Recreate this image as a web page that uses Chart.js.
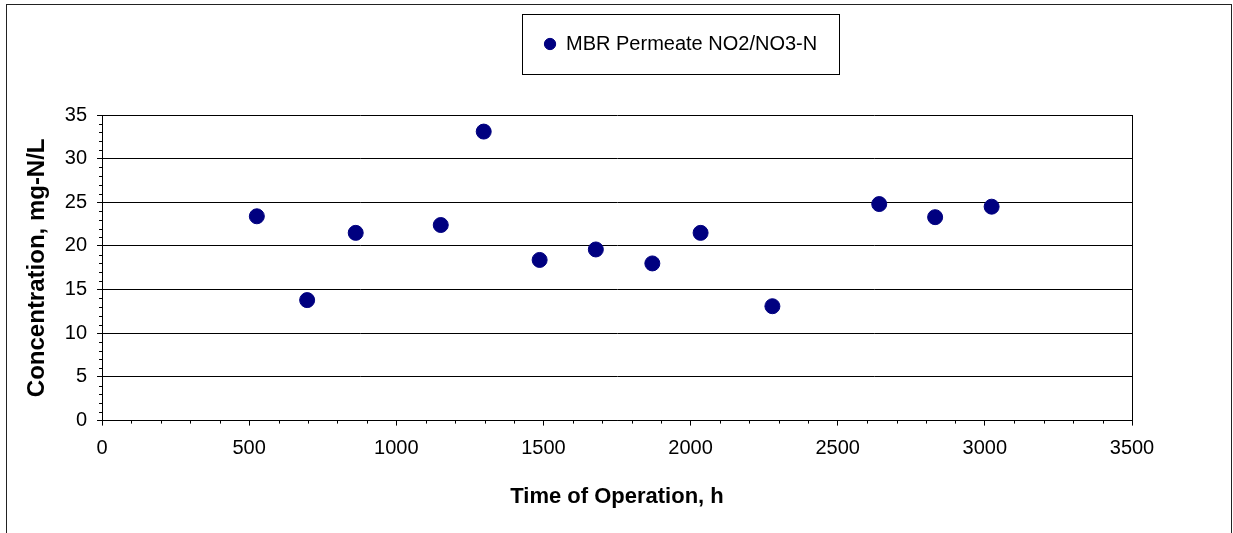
<!DOCTYPE html>
<html>
<head>
<meta charset="utf-8">
<title>MBR Permeate NO2/NO3-N</title>
<script src="https://cdn.jsdelivr.net/npm/chart.js@4"></script>
<style>
  html, body { margin: 0; padding: 0; background: #fff; }
</style>
</head>
<body>
<canvas id="nitrateChart" width="1233" height="533"></canvas>
<script>
// values
const hours = [526, 697, 862, 1151, 1297, 1487, 1678, 1870, 2034, 2278, 2641, 2831, 3023];
const nitrogen = [23.4, 13.8, 21.5, 22.4, 33.1, 18.4, 19.6, 18.0, 21.5, 13.1, 24.8, 23.3, 24.5];
const xTicks = [0, 500, 1000, 1500, 2000, 2500, 3000, 3500];
const yTicks = [0, 5, 10, 15, 20, 25, 30, 35];
const xMinorStep = 100;
const yMinorStep = 1;

Chart.defaults.font.family = 'Arial, "Liberation Sans", sans-serif';
Chart.defaults.color = '#000';

const frame = {
  id: 'frame',
  beforeInit(chart) {
    // leave room between the legend and the plot
    const fit = chart.legend.fit;
    chart.legend.fit = function () {
      fit.call(this);
      this.height += 51;
    };
  },
  afterLayout(chart) {
    // legend sits a bit right of centre
    const lg = chart.legend;
    const dx = chart.width * 0.552 - (lg.left + lg.right) / 2;
    lg.left += dx;
    lg.right += dx;
  },
  afterDraw(chart) {
    const {ctx, chartArea, scales: {x, y}} = chart;
    ctx.save();
    ctx.lineWidth = 1;
    ctx.strokeStyle = '#000';

    // minor ticks
    ctx.beginPath();
    for (let v = xTicks[0]; v <= xTicks[xTicks.length - 1]; v += xMinorStep) {
      if (xTicks.includes(v)) continue;
      const px = Math.round(x.getPixelForValue(v)) + 0.5;
      ctx.moveTo(px, chartArea.bottom);
      ctx.lineTo(px, chartArea.bottom + 3);
    }
    for (let v = yTicks[0]; v <= yTicks[yTicks.length - 1]; v += yMinorStep) {
      if (yTicks.includes(v)) continue;
      const py = Math.round(y.getPixelForValue(v)) + 0.5;
      ctx.moveTo(chartArea.left, py);
      ctx.lineTo(chartArea.left - 3, py);
    }
    ctx.stroke();

    // legend box
    const hb = chart.legend.legendHitBoxes[0];
    ctx.strokeRect(Math.round(hb.left - 22) + 0.5, Math.round(hb.top - 20) + 0.5,
      Math.round(hb.width + 44), Math.round(hb.height + 40));

    // outer frame
    ctx.strokeStyle = '#222';
    ctx.strokeRect(6.5, 4.5, chart.width - 8, chart.height + 10);
    ctx.restore();
  }
};

const ctx = document.getElementById('nitrateChart');

new Chart(ctx, {
  type: 'scatter',
  data: {
    datasets: [{
      label: 'MBR Permeate NO2/NO3-N',
      data: hours.map((h, i) => ({x: h, y: nitrogen[i]})),
      backgroundColor: '#000080',
      borderColor: '#000080',
      borderWidth: 1,
      pointRadius: 7.5,
      pointHoverRadius: 7.5
    }]
  },
  options: {
    responsive: false,
    animation: false,
    devicePixelRatio: 1,
    layout: { padding: { top: 14, left: 0, right: 101, bottom: 23 } },
    plugins: {
      tooltip: { enabled: false },
      legend: {
        position: 'top',
        labels: {
          usePointStyle: true,
          pointStyle: 'circle',
          boxWidth: 12,
          boxHeight: 8,
          padding: 20,
          font: { size: 20 },
          color: '#000'
        }
      }
    },
    scales: {
      x: {
        type: 'linear',
        min: xTicks[0],
        max: xTicks[xTicks.length - 1],
        afterBuildTicks: axis => { axis.ticks = xTicks.map(v => ({value: v})); },
        border: { color: '#000', width: 1 },
        grid: {
          color: c => c.tick && c.tick.value === xTicks[xTicks.length - 1] ? '#000' : 'rgba(0,0,0,0)',
          tickColor: '#000',
          tickLength: 5
        },
        ticks: { font: { size: 20 }, padding: 11, maxRotation: 0, autoSkip: false, callback: v => String(v) },
        title: {
          display: true,
          text: 'Time of Operation, h',
          font: { size: 22, weight: 'bold' },
          padding: { top: 12, bottom: 0 }
        }
      },
      y: {
        min: yTicks[0],
        max: yTicks[yTicks.length - 1],
        afterBuildTicks: axis => { axis.ticks = yTicks.map(v => ({value: v})); },
        border: { color: '#000', width: 1 },
        grid: { color: '#000', tickColor: '#000', tickLength: 5 },
        ticks: { font: { size: 20 }, padding: 10, autoSkip: false, callback: v => String(v) },
        title: {
          display: true,
          text: 'Concentration, mg-N/L',
          font: { size: 24, weight: 'bold' },
          padding: { top: 23, bottom: 3 }
        }
      }
    }
  },
  plugins: [frame]
});
</script>
</body>
</html>
